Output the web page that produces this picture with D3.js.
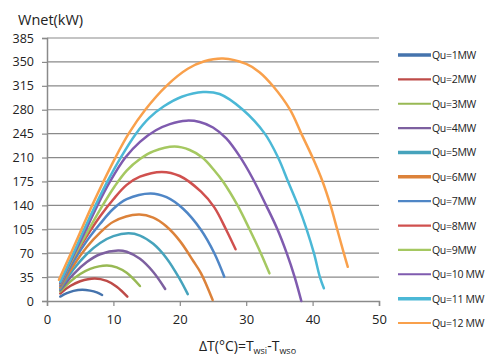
<!DOCTYPE html>
<html>
<head>
<meta charset="utf-8">
<script src="https://cdn.jsdelivr.net/npm/d3@7"></script>
<style>
  body { margin: 0; background: #fff; }
  svg text { font-family: "Open Sans", "Liberation Sans", sans-serif; fill: #222; }
</style>
</head>
<body>
<svg id="chart" width="486" height="356"></svg>
<script>
// series names and colours
const seriesNames = ['Qu=1MW', 'Qu=2MW', 'Qu=3MW', 'Qu=4MW', 'Qu=5MW', 'Qu=6MW',
  'Qu=7MW', 'Qu=8MW', 'Qu=9MW', 'Qu=10 MW', 'Qu=11 MW', 'Qu=12 MW'];
const colors = ['#4573AD', '#BE4B48', '#98B954', '#7D60A0', '#46A3BC', '#DC823A',
  '#4F86C6', '#D0504E', '#A5C861', '#7F5BAF', '#4BB8D6', '#F9A04B'];

// dT values per series
const dT = [
  [2, 3, 4, 5.3, 6.5, 7.5, 8.3],
  [2, 3.5, 5, 7.2, 9, 10.5, 12.1],
  [2, 3.5, 5, 6.5, 9, 10.5, 12, 14],
  [2, 4, 6, 8, 10.7, 12, 14, 16, 17.8],
  [2, 4, 6, 8, 10, 12.3, 14, 16, 18, 20, 21.2],
  [2, 4, 6, 8, 10, 13.8, 16, 18, 20, 22, 23.2, 24.95],
  [2, 4, 6, 8, 10, 12, 15.6, 18, 20.5, 23.2, 25.2, 26.7],
  [2, 4, 6, 8, 10, 12, 14, 17.3, 20, 23.2, 25.2, 27, 28.4],
  [2, 4, 6.2, 8.2, 10.2, 12, 14, 16, 19.2, 21.5, 23.4, 25.3, 26.5, 28.7, 30.5, 32.2, 33.5],
  [2, 4, 5.9, 7.6, 9.5, 11.8, 14, 16.4, 18.5, 21, 23, 25, 27, 29, 31, 33, 34.7, 36.1, 37.3, 38.3],
  [2, 3.9, 5.6, 7.3, 9.1, 11.1, 13.4, 15.4, 17.6, 20.3, 23.5, 26, 29.5, 32.8, 34.8, 36.3, 37.8, 39.1, 40.2, 41.1, 41.7],
  [1.8, 3.6, 5.2, 6.8, 8.5, 10.3, 12.3, 14.8, 18, 21.2, 23.7, 26.5, 30, 32, 34, 36.6, 38.3, 40, 41.5, 42.7, 43.7, 44.7, 45.3]
];
// Wnet values per series (kW)
const wnet = [
  [6.5, 11.5, 14.8, 16.5, 15.2, 12.6, 8.8],
  [11, 22, 29, 33, 29.4, 21, 6.5],
  [14, 28.4, 39.5, 47.1, 52, 49.3, 41.2, 22],
  [16, 39.5, 57, 68.4, 74, 72.1, 61.8, 42.5, 17.6],
  [18, 46.5, 68.8, 85, 95, 99, 95.8, 83.7, 62.6, 32, 10],
  [20, 52, 79, 100, 116, 126.5, 122, 109, 88, 59, 40.5, 1.5],
  [22, 58, 88, 113, 135, 149, 157.5, 152, 135, 104, 70, 35.6],
  [24, 63, 95, 124, 149, 170, 182, 189, 183, 160, 137, 104, 75.7],
  [25, 64, 103, 137, 168, 191, 208, 219, 226, 221, 210, 190, 175, 140, 105, 70, 40.5],
  [26, 67, 105, 140, 175, 210, 233, 250, 259, 264, 262, 254, 238, 212, 179, 140, 105, 70, 35, 0],
  [28, 68, 105, 140, 175, 210, 245, 268, 285, 299, 306, 303, 280, 245, 210, 175, 140, 105, 70, 35, 18.6],
  [31, 70, 105, 140, 175, 210, 245, 280, 315, 340, 351, 355, 347, 335, 315, 280, 245, 210, 175, 140, 105, 70, 50]
];

const yTicks = [0, 35, 70, 105, 140, 175, 210, 245, 280, 315, 350, 385];
const xTicks = [0, 10, 20, 30, 40, 50];

const svg = d3.select('#chart');

const x = d3.scaleLinear().domain([0, 50]).range([47, 379]);
const y = d3.scaleLinear().domain([0, 385]).range([301, 38]);

// horizontal gridlines
svg.append('g')
  .selectAll('line')
  .data(yTicks.filter(d => d > 0))
  .enter()
  .append('line')
  .attr('x1', x(0)).attr('x2', x(50))
  .attr('y1', d => y(d)).attr('y2', d => y(d))
  .attr('stroke', '#8a8a8a')
  .attr('stroke-width', 1.2);

// y axis
const yAxis = svg.append('g')
  .attr('transform', `translate(${x(0)},0)`)
  .call(d3.axisLeft(y).tickValues(yTicks).tickSize(5).tickPadding(8));
yAxis.select('.domain').attr('stroke', '#8a8a8a').attr('stroke-width', 1.5);
yAxis.selectAll('.tick line').attr('stroke', '#8a8a8a').attr('stroke-width', 1.2);
yAxis.selectAll('text').style('font-size', '12.5px').attr('fill', '#222');

// x axis
const xAxis = svg.append('g')
  .attr('transform', `translate(0,${y(0)})`)
  .call(d3.axisBottom(x).tickValues(xTicks).tickSize(5).tickPadding(9));
xAxis.select('.domain').attr('stroke', '#8a8a8a').attr('stroke-width', 1.5);
xAxis.selectAll('.tick line').attr('stroke', '#8a8a8a').attr('stroke-width', 1.2);
xAxis.selectAll('text').style('font-size', '13px').attr('fill', '#222');

// curves
const line = d3.line()
  .x(d => x(d[0]))
  .y(d => y(d[1]))
  .curve(d3.curveCatmullRom.alpha(0.5));

svg.append('g')
  .selectAll('path')
  .data(seriesNames.map((name, i) => dT[i].map((t, j) => [t, wnet[i][j]])))
  .enter()
  .append('path')
  .attr('d', line)
  .attr('fill', 'none')
  .attr('stroke', (d, i) => colors[i])
  .attr('stroke-width', 2.5)
  .attr('stroke-linecap', 'round');

// axis titles
svg.append('text')
  .attr('x', 18).attr('y', 25)
  .style('font-size', '14.5px')
  .text('Wnet(kW)');

const xt = svg.append('text')
  .attr('x', 199).attr('y', 351)
  .style('font-size', '14px');
xt.append('tspan').text('ΔT(°C)=T');
xt.append('tspan').attr('dy', 3).style('font-size', '9px').text('wsi');
xt.append('tspan').attr('dy', -3).text('-T');
xt.append('tspan').attr('dy', 3).style('font-size', '9px').text('wso');

// legend
const legendY = d3.scaleLinear().domain([0, 11]).range([55, 323]);
const legend = svg.append('g')
  .selectAll('g')
  .data(seriesNames)
  .enter()
  .append('g')
  .attr('transform', (d, i) => `translate(398,${legendY(i)})`);

legend.append('line')
  .attr('x1', 0).attr('x2', 33)
  .attr('stroke', (d, i) => colors[i])
  .attr('stroke-width', (d, i) => [0, 4, 5, 10].includes(i) ? 3.5 : 2.2);

legend.append('text')
  .attr('x', 34).attr('y', 4)
  .style('font-size', '10.5px')
  .style('letter-spacing', '-0.3px')
  .attr('fill', '#333')
  .text(d => d);
</script>
</body>
</html>
